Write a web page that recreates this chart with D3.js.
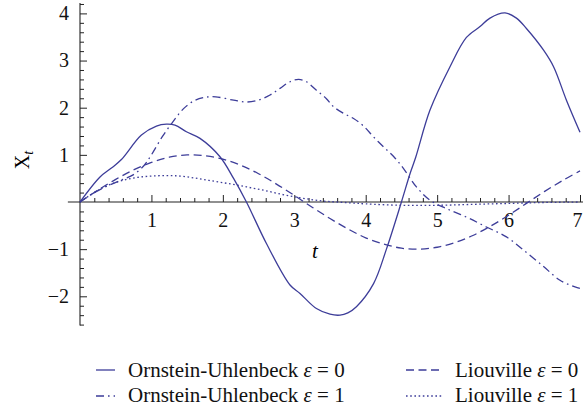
<!DOCTYPE html>
<html>
<head>
<meta charset="utf-8">
<script src="https://cdn.jsdelivr.net/npm/d3@7"></script>
<style>
html,body{margin:0;padding:0;background:#fff;}
svg{display:block;}
text{font-family:"Liberation Serif","Times New Roman",serif;}
</style>
</head>
<body>
<svg id="chart" width="583" height="410"></svg>
<script>
// ---- data ----
const ouEps0T = [0,0.28,0.44,0.58,0.86,1.07,1.21,1.33,1.49,1.68,1.96,2.15,2.33,2.61,2.94,3.08,3.31,3.5,3.64,3.75,3.87,4.11,4.29,4.5,4.62,4.7,4.9,5.18,5.41,5.6,5.74,5.95,6.11,6.25,6.49,6.63,6.81,7.0];
const ouEps0V = [0,0.53,0.72,0.9,1.42,1.61,1.65,1.63,1.49,1.35,0.96,0.5,0,-0.88,-1.76,-1.94,-2.26,-2.38,-2.4,-2.35,-2.22,-1.73,-1.0,0,0.6,0.95,1.95,2.87,3.49,3.72,3.9,4.01,3.9,3.68,3.22,2.87,2.16,1.48];

const ouEps1T = [0,0.2,0.4,0.6,0.75,0.9,1.0,1.15,1.3,1.45,1.6,1.75,1.9,2.15,2.33,2.5,2.66,2.8,2.94,3.06,3.17,3.31,3.45,3.55,3.69,3.83,3.97,4.11,4.25,4.4,4.53,4.71,4.9,5.13,5.41,5.69,5.97,6.21,6.49,6.72,6.93,7.0];
const ouEps1V = [0,0.2,0.35,0.48,0.58,0.78,1.0,1.38,1.7,1.98,2.15,2.22,2.23,2.16,2.12,2.16,2.27,2.41,2.55,2.6,2.55,2.37,2.19,2.02,1.88,1.77,1.61,1.38,1.17,0.95,0.71,0.32,0.04,-0.14,-0.32,-0.53,-0.74,-1.02,-1.37,-1.66,-1.8,-1.83];

const liEps0T = [0,0.25,0.5,0.75,1.0,1.25,1.5,1.75,2.0,2.25,2.5,2.75,3.0,3.25,3.5,3.75,4.0,4.25,4.5,4.75,5.0,5.25,5.5,5.75,6.0,6.25,6.5,6.75,7.0];
const liEps0V = [0,0.25,0.48,0.68,0.84,0.95,1.0,0.98,0.91,0.78,0.6,0.38,0.14,-0.11,-0.35,-0.57,-0.76,-0.89,-0.98,-1.0,-0.96,-0.86,-0.71,-0.51,-0.28,-0.03,0.22,0.45,0.66];

const liEps1T = [0,0.2,0.4,0.6,0.8,1.0,1.2,1.4,1.6,1.8,2.0,2.2,2.4,2.6,2.8,3.0,3.2,3.4,3.6,3.8,4.0,4.5,5.0,5.5,6.0,6.5,7.0];
const liEps1V = [0,0.2,0.36,0.46,0.52,0.55,0.56,0.55,0.51,0.46,0.41,0.36,0.3,0.24,0.17,0.11,0.06,0.02,0.0,-0.02,-0.04,-0.07,-0.07,-0.05,-0.03,-0.01,0.0];

const seriesNames = ["Ornstein-Uhlenbeck \u03b5 = 0","Liouville \u03b5 = 0","Ornstein-Uhlenbeck \u03b5 = 1","Liouville \u03b5 = 1"];
const xTickLabels = [1,2,3,4,5,6,7];
const yTickLabels = [-2,-1,1,2,3,4];

// ---- styling ----
const color = "#3d3d99";
const dashArr = [null, "8,4.5", "8,4,1.6,4", "1.6,2.6"];

const svg = d3.select("#chart");
const x = d3.scaleLinear().domain([0,7]).range([80,580]);
const y = d3.scaleLinear().domain([0,4]).range([202,13.4]);

const series = [
  {t: ouEps0T, v: ouEps0V, dash: dashArr[0]},
  {t: liEps0T, v: liEps0V, dash: dashArr[1]},
  {t: ouEps1T, v: ouEps1V, dash: dashArr[2]},
  {t: liEps1T, v: liEps1V, dash: dashArr[3]}
];

// axes
const axisColor = "#222";
const xMinor = d3.range(1,35).map(i=>i*0.2).filter(v=>Math.abs(v-Math.round(v))>1e-6);
const yMinor = d3.range(-13,22).map(i=>i*0.2).filter(v=>Math.abs(v-Math.round(v))>1e-6);

svg.append("line").attr("x1",x(-0.17)).attr("x2",583).attr("y1",y(0)).attr("y2",y(0)).attr("stroke",axisColor).attr("stroke-width",1.1);
svg.append("line").attr("x1",x(0)).attr("x2",x(0)).attr("y1",y(4.22)).attr("y2",y(-2.62)).attr("stroke",axisColor).attr("stroke-width",1.1);

function styleAxis(g){
  g.select(".domain").remove();
  g.selectAll(".tick line").attr("stroke",axisColor).attr("stroke-width",1);
  g.selectAll(".tick text").attr("fill","#111").style("font-size","20px").style("font-family","'Liberation Serif',serif");
}
svg.append("g").attr("transform",`translate(0,${y(0)})`)
  .call(d3.axisBottom(x).tickValues(xMinor).tickSize(-4).tickFormat("")).call(styleAxis);
const xMajor = svg.append("g").attr("transform",`translate(0,${y(0)})`)
  .call(d3.axisBottom(x).tickValues(xTickLabels).tickSize(-7).tickPadding(11).tickFormat(d3.format("d"))).call(styleAxis);
// keep the last label ("7") inside the picture
xMajor.selectAll(".tick text").filter(d=>d===7).attr("dx",-3);
svg.append("g").attr("transform",`translate(${x(0)},0)`)
  .call(d3.axisLeft(y).tickValues(yMinor).tickSize(-4).tickFormat("")).call(styleAxis);
svg.append("g").attr("transform",`translate(${x(0)},0)`)
  .call(d3.axisLeft(y).tickValues(yTickLabels).tickSize(-7).tickPadding(11).tickFormat(d3.format("d"))).call(styleAxis);

// axis labels
svg.append("text").attr("x",315).attr("y",258).attr("text-anchor","middle")
  .style("font-size","21px").style("font-style","italic").text("t");
const yl = svg.append("text").attr("transform","translate(29,160) rotate(-90)").attr("text-anchor","middle").style("font-size","20px");
yl.append("tspan").text("X");
yl.append("tspan").attr("dy",4).style("font-size","14px").style("font-style","italic").text("t");

// curves
const line = d3.line().x(d=>x(d[0])).y(d=>y(d[1])).curve(d3.curveCatmullRom.alpha(0.5));
series.forEach(s=>{
  const pts = s.t.map((t,i)=>[t,s.v[i]]);
  svg.append("path").datum(pts).attr("d",line).attr("fill","none")
    .attr("stroke",color).attr("stroke-width",1.3)
    .attr("stroke-dasharray",s.dash);
});

// legend
const legPos = [
  {lx:96, lw:19, tx:128, y:370, ty:377},
  {lx:406, lw:36, tx:455, y:370, ty:377},
  {lx:96, lw:19, tx:128, y:396, ty:402},
  {lx:406, lw:36, tx:455, y:396, ty:402}
];
seriesNames.forEach((name,i)=>{
  const p = legPos[i];
  svg.append("line").attr("x1",p.lx).attr("x2",p.lx+p.lw).attr("y1",p.y).attr("y2",p.y)
    .attr("stroke",color).attr("stroke-width",1.3).attr("stroke-dasharray",series[i].dash);
  const t = svg.append("text").attr("x",p.tx).attr("y",p.ty).style("font-size","21px").attr("fill","#111");
  const parts = name.split("\u03b5");
  t.append("tspan").text(parts[0]);
  t.append("tspan").style("font-style","italic").text("\u03b5");
  t.append("tspan").text(parts[1]);
});
</script>
</body>
</html>
